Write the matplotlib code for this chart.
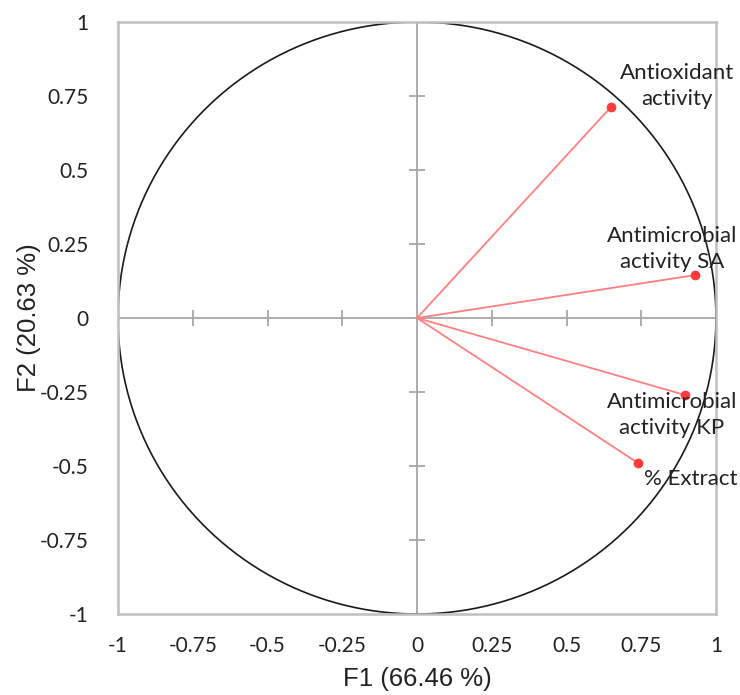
import numpy as np
import matplotlib
matplotlib.use("Agg")
import matplotlib.pyplot as plt

# Data
variables = ["Antioxidant\nactivity", "Antimicrobial\nactivity SA", "Antimicrobial\nactivity KP", "% Extract"]
f1 = [0.649, 0.930, 0.896, 0.739]
f2 = [0.713, 0.145, -0.260, -0.490]
ticks = [-1, -0.75, -0.5, -0.25, 0, 0.25, 0.5, 0.75, 1]
tick_labels = ["-1", "-0.75", "-0.5", "-0.25", "0", "0.25", "0.5", "0.75", "1"]
xlabel = "F1 (66.46 %)"
ylabel = "F2 (20.63 %)"
label_offsets = [(66, 21), (-23, 26), (-13, -20), (53, -16)]  # pixels

fig = plt.figure(figsize=(7.4, 6.95), dpi=100)
ax = fig.add_axes([118/740, 1-614/695, (716-118)/740, (614-22)/695])
ax.set_xlim(-1, 1)
ax.set_ylim(-1, 1)

lab_font = "Lato"
# center lines
ax.axhline(0, color="#a6a6a6", lw=1.3, zorder=1)
ax.axvline(0, color="#a6a6a6", lw=1.3, zorder=1)
inner = [t for t in ticks if t not in (-1, 0, 1)]
ax.plot([0]*len(inner), inner, ls="none", marker="_", ms=12, mew=1.3, color="#a6a6a6", zorder=1)
ax.plot(inner, [0]*len(inner), ls="none", marker="|", ms=12, mew=1.3, color="#a6a6a6", zorder=1)

# circle
th = np.linspace(0, 2*np.pi, 400)
ax.plot(np.cos(th), np.sin(th), color="#1a1a1a", lw=1.2, zorder=2)

# vectors
for x, y, name, off in zip(f1, f2, variables, label_offsets):
    ax.plot([0, x], [0, y], color="#ff8080", lw=1.3, zorder=3)
    ax.plot(x, y, "o", color="#ff3b3b", ms=6, zorder=4)
    ax.annotate(name, (x, y), xytext=off, textcoords="offset pixels",
                ha="center", va="center", multialignment="center",
                fontsize=16, family=lab_font, color="#222222", linespacing=1.42, zorder=5)

ax.set_xticks(ticks)
ax.set_yticks(ticks)
ax.set_xticklabels(tick_labels, fontsize=15, family=lab_font, color="#222222")
ax.set_yticklabels(tick_labels, fontsize=15, family=lab_font, color="#222222")
ax.tick_params(length=0, pad=16)
ax.tick_params(axis="y", pad=21)
for s in ax.spines.values():
    s.set_color("#bfbfbf")
    s.set_linewidth(1.8)
ax.set_xlabel(xlabel, fontsize=18.5, family="Liberation Sans", color="#222222", labelpad=8)
ax.set_ylabel(ylabel, fontsize=18.5, family="Liberation Sans", color="#222222")
ax.yaxis.set_label_coords(-0.128, 0.5)

fig.savefig("out.png", dpi=100)
